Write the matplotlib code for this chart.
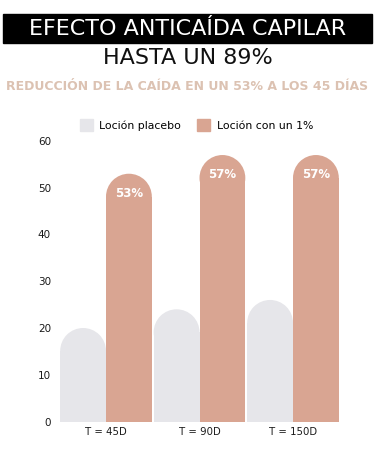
import matplotlib
matplotlib.use("Agg")
import matplotlib.pyplot as plt
from matplotlib.patches import Ellipse, Patch, Rectangle
import numpy as np

# data
categories = ["T = 45D", "T = 90D", "T = 150D"]
placebo = [20, 24, 26]
treated = [53, 57, 57]
treated_labels = ["53%", "57%", "57%"]
yticks = [0, 10, 20, 30, 40, 50, 60]

gray = "#e6e6ea"
rose = "#d9a592"
tan = "#dcc2b2"

plt.rcParams["font.family"] = ["DejaVu Sans"]

fig = plt.figure(figsize=(3.75, 4.5), dpi=100)
W, H = 375, 450
ax = fig.add_axes([59.25 / W, 28.5 / H, 280.5 / W, 280.5 / H])
ax.set_xlim(-0.5, 2.5)
ax.set_ylim(0, 60)

# header
fig.patches.append(Rectangle((3 / W, 1 - 43 / H), 369 / W, 29 / H, transform=fig.transFigure,
                             color="black", zorder=0))
fig.text(0.5, 1 - 29 / H, "EFECTO ANTICAÍDA CAPILAR", color="white", fontsize=16,
         ha="center", va="center")
fig.text(0.5, 1 - 58.5 / H, "HASTA UN 89%", color="#111111", fontsize=16,
         ha="center", va="center")
fig.text(0.5, 1 - 86 / H, "REDUCCIÓN DE LA CAÍDA EN UN 53% A LOS 45 DÍAS", color=tan,
         fontsize=9, ha="center", va="center", fontweight="semibold")

# bars with rounded tops
w = 0.49
x = np.arange(len(categories))
px_x = 280.5 / 3
px_y = 280.5 / 60
ry = (w / 2) * px_x / px_y

for vals, off, col in [(placebo, -w / 2, gray), (treated, w / 2, rose)]:
    for xi, v in zip(x, vals):
        ax.bar(xi + off, v - ry, width=w, color=col, linewidth=0)
        ax.add_patch(Ellipse((xi + off, v - ry), w, 2 * ry, color=col, linewidth=0))

for xi, v, lab in zip(x, treated, treated_labels):
    ax.text(xi + w / 2, v - 4.2, lab, color="white", fontsize=8.5, fontweight="bold",
            ha="center", va="center")

ax.set_xticks(x)
ax.set_xticklabels(categories, fontsize=7.3, color="#1a1a1a")
ax.set_yticks(yticks)
ax.set_yticklabels([str(t) for t in yticks], fontsize=7.5, color="#1a1a1a")
ax.tick_params(length=0)
ax.tick_params(axis="y", pad=6)
ax.tick_params(axis="x", pad=4)
for s in ax.spines.values():
    s.set_visible(False)

handles = [Patch(color=gray, label="Loción placebo"), Patch(color=rose, label="Loción con un 1%")]
fig.legend(handles=handles, loc="center", bbox_to_anchor=(196.5 / W, 1 - 125 / H), ncol=2,
           frameon=False, fontsize=7.8, handlelength=1.2, handleheight=1.2,
           columnspacing=1.5, handletextpad=0.6)

fig.savefig("out.png", dpi=100)
